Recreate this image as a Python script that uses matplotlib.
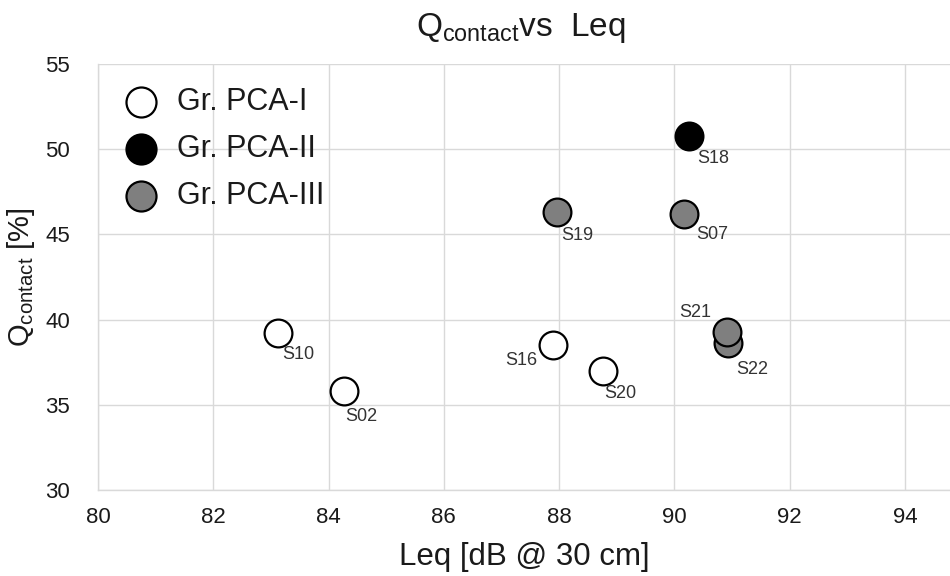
import matplotlib
matplotlib.use("Agg")
import matplotlib.pyplot as plt

plt.rcParams['font.family'] = ['Liberation Sans', 'DejaVu Sans']
plt.rcParams['mathtext.fontset'] = 'custom'
plt.rcParams['mathtext.rm'] = 'Liberation Sans'
plt.rcParams['mathtext.it'] = 'Liberation Sans'

# Samples grouped by PCA cluster: Leq [dB @ 30 cm] and Q_contact [%]
grp1_names = ["S10", "S02", "S16", "S20"]
grp1_leq = [83.12, 84.26, 87.89, 88.76]
grp1_q = [39.2, 35.8, 38.5, 37.0]

grp2_names = ["S18"]
grp2_leq = [90.25]
grp2_q = [50.8]

grp3_names = ["S19", "S07", "S22", "S21"]
grp3_leq = [87.96, 90.16, 90.93, 90.92]
grp3_q = [46.3, 46.2, 38.6, 39.3]

group_labels = ["Gr. PCA-I", "Gr. PCA-II", "Gr. PCA-III"]
xticks = [80, 82, 84, 86, 88, 90, 92, 94]
yticks = [30, 35, 40, 45, 50, 55]

# label placement (offset in points, horizontal alignment)
label_pos = {
    "S10": (2.9, -18.9, "left"),
    "S02": (0.9, -21.8, "left"),
    "S16": (-10.8, -14.4, "right"),
    "S20": (1.2, -19.7, "left"),
    "S18": (5.8, -19.4, "left"),
    "S19": (3.1, -19.7, "left"),
    "S07": (9.1, -18.2, "left"),
    "S22": (6.0, -22.1, "left"),
    "S21": (-11.8, 10.4, "right"),
}

txt_c = "#1a1a1a"
fig = plt.figure(figsize=(9.5, 5.76), dpi=100)
ax = fig.add_axes([98 / 950, 1 - 490 / 576, 1 - 98 / 950, (490 - 64) / 576])

grid_c = "#d9d9d9"
msize = 400
edge_w = 1.6
groups = [
    (grp1_names, grp1_leq, grp1_q, "white"),
    (grp2_names, grp2_leq, grp2_q, "black"),
    (grp3_names, grp3_leq, grp3_q, "#7f7f7f"),
]
for (names, xs, ys, fc), lab in zip(groups, group_labels):
    ax.scatter(xs, ys, s=msize, facecolor=fc, edgecolor="black",
               linewidth=edge_w, zorder=3, label=lab)
    for n, x, y in zip(names, xs, ys):
        dx, dy, ha = label_pos[n]
        ax.annotate(n, (x, y), xytext=(dx, dy), textcoords="offset points",
                    ha=ha, va="baseline", fontsize=13, color="#333333",
                    zorder=4)

ax.set_xlim(80, 94.78)
ax.set_ylim(30, 55)
ax.set_xticks(xticks)
ax.set_yticks(yticks)
ax.tick_params(length=0, labelsize=16, colors=txt_c)
ax.tick_params(axis="x", pad=12)
ax.tick_params(axis="y", pad=20)
ax.grid(True, color=grid_c, linewidth=1.0, zorder=0)
ax.set_axisbelow(True)
for side in ["top", "right"]:
    ax.spines[side].set_visible(False)
for side in ["left", "bottom"]:
    ax.spines[side].set_color(grid_c)
    ax.spines[side].set_linewidth(1.0)

ax.set_xlabel("Leq [dB @ 30 cm]", fontsize=22.5, color=txt_c, labelpad=10)
ax.set_ylabel(r"$\mathrm{Q_{contact}}$ [%]", fontsize=21, color=txt_c,
              labelpad=6)
fig.text(0.548, 1 - 28 / 576, r"$\mathrm{Q_{contact}}$vs  Leq", fontsize=24,
         ha="center", va="center", color=txt_c)

leg = ax.legend(loc="upper left", bbox_to_anchor=(0.0, 1.0 - 2 / 426),
                frameon=False, fontsize=22, scatterpoints=1,
                labelspacing=0.55, handlelength=1.4, handletextpad=0.47,
                borderaxespad=0.3, markerscale=1.08)
for t in leg.get_texts():
    t.set_color(txt_c)

fig.savefig("out.png", dpi=100)
